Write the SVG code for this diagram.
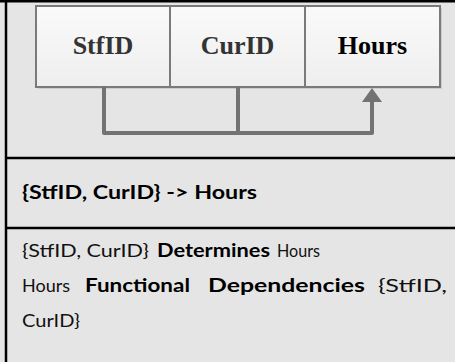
<svg xmlns="http://www.w3.org/2000/svg" width="455" height="362" viewBox="0 0 455 362">
  <style>
    .cell { fill: url(#cellFill); stroke: #7a7a7a; stroke-width: 2; }
    .shadow { fill: #cdcdcd; }
    .attr { font-family: "Liberation Serif", "Times New Roman", serif; font-weight: bold; font-size: 26px; text-anchor: middle; }
    .link { fill: none; stroke: #737373; stroke-width: 4; stroke-linejoin: round; stroke-linecap: round; }
    .rule { stroke: #000; stroke-width: 2.5; }
    .body { font-family: "Lato", "Open Sans", sans-serif; font-size: 18px; fill: #111; }
    .b { font-weight: bold; fill: #000; }
  </style>
  <defs>
    <linearGradient id="cellFill" x1="0" y1="0" x2="0" y2="1">
      <stop offset="0" stop-color="#fafafa"/>
      <stop offset="1" stop-color="#eeeeee"/>
    </linearGradient>
  </defs>

  <!-- table background and frame -->
  <rect x="0" y="0" width="455" height="362" fill="#e5e5e5"/>
  <line class="rule" x1="0" y1="1.2" x2="455" y2="1.2"/>
  <line class="rule" x1="6" y1="0" x2="6" y2="362"/>
  <line class="rule" x1="6" y1="158" x2="455" y2="158"/>
  <line class="rule" x1="6" y1="228" x2="455" y2="228"/>

  <!-- cell shadows -->
  <rect class="shadow" x="38" y="8" width="404" height="81"/>

  <g id="StfID">
    <rect class="cell" x="36" y="6" width="134" height="81"/>
    <text class="attr" x="103" y="54" fill="#333">StfID</text>
  </g>
  <g id="CurID">
    <rect class="cell" x="170" y="6" width="135" height="81"/>
    <text class="attr" x="237.5" y="54" fill="#333">CurID</text>
  </g>
  <g id="Hours">
    <rect class="cell" x="305" y="6" width="135" height="81"/>
    <text class="attr" x="372.5" y="54" fill="#000">Hours</text>
  </g>

  <g id="connectors">
    <path class="link" d="M104,88 V133 H372 V102"/>
    <line class="link" x1="238" y1="88" x2="238" y2="133"/>
    <path d="M362,102 L372,88 L382,102 Z" fill="#737373"/>
  </g>

  <!-- notation -->
  <text class="body b" x="22" y="199" textLength="235" lengthAdjust="spacingAndGlyphs">{StfID, CurID} -&gt; Hours</text>

  <!-- description -->
  <text class="body" x="22" y="257" textLength="127" lengthAdjust="spacingAndGlyphs">{StfID, CurID}</text>
  <text class="body b" x="157" y="257" textLength="113" lengthAdjust="spacingAndGlyphs">Determines</text>
  <text class="body" x="277" y="257" textLength="43" lengthAdjust="spacingAndGlyphs">Hours</text>

  <text class="body" x="22" y="292" textLength="48" lengthAdjust="spacingAndGlyphs">Hours</text>
  <text class="body b" x="85" y="292" textLength="105" lengthAdjust="spacingAndGlyphs">Functional</text>
  <text class="body b" x="208" y="292" textLength="157" lengthAdjust="spacingAndGlyphs">Dependencies</text>
  <text class="body" x="378" y="292" textLength="69" lengthAdjust="spacingAndGlyphs">{StfID,</text>

  <text class="body" x="22" y="327" textLength="58" lengthAdjust="spacingAndGlyphs">CurID}</text>
</svg>
